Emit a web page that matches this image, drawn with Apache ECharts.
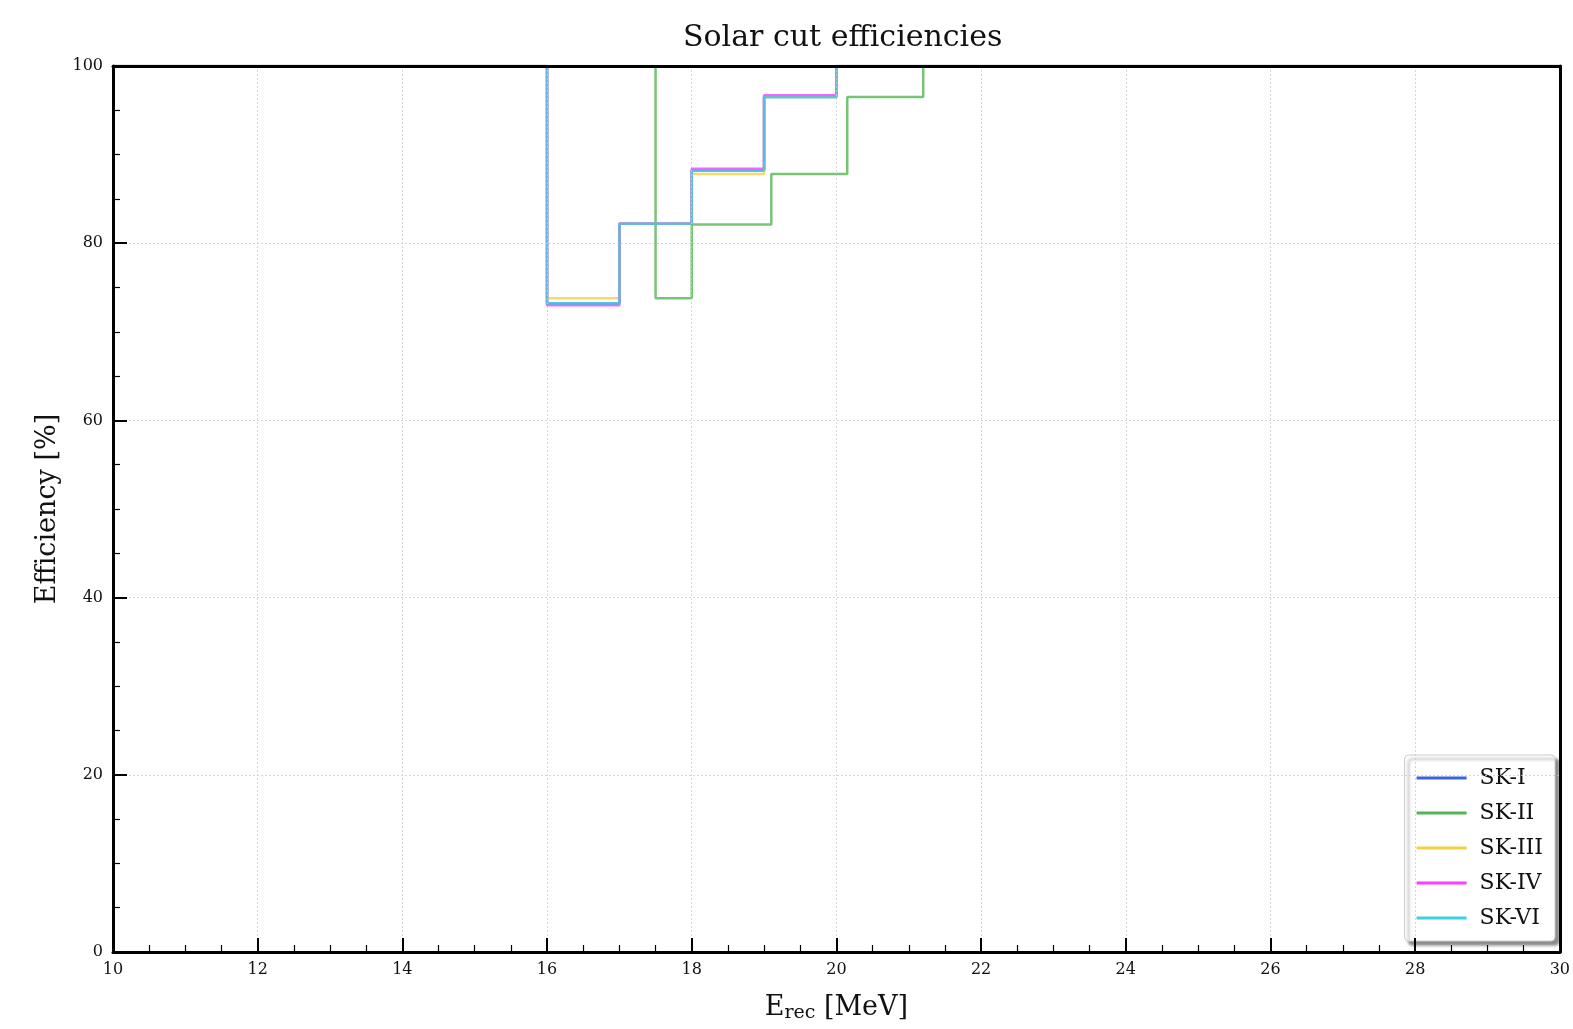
<!DOCTYPE html>
<html><head><meta charset="utf-8">
<script src="https://cdn.jsdelivr.net/npm/echarts@6/dist/echarts.min.js"></script>
<style>html,body{margin:0;padding:0;background:#fff}#c{width:1573px;height:1029px}</style>
</head><body><div id="c"></div>
<script>
const seriesNames = ['SK-I','SK-II','SK-III','SK-IV','SK-VI'];
// bin edges (x, MeV) and efficiency (%) at each edge, step held until next edge
const edgesSK1 = [10, 16, 17, 18, 19, 20, 30];
const effSK1   = [100, 73.2, 82.2, 88.2, 96.5, 100, 100];
const edgesSK2 = [10, 17.5, 18, 19.1, 20.15, 21.2, 30];
const effSK2   = [100, 73.8, 82.1, 87.8, 96.5, 100, 100];
const edgesSK3 = [10, 16, 17, 18, 19, 20, 30];
const effSK3   = [100, 73.8, 82.2, 87.8, 96.5, 100, 100];
const edgesSK4 = [10, 16, 17, 18, 19, 20, 30];
const effSK4   = [100, 73.0, 82.2, 88.4, 96.7, 100, 100];
const edgesSK6 = [10, 16, 17, 18, 19, 20, 30];
const effSK6   = [100, 73.2, 82.2, 88.2, 96.5, 100, 100];
const colors = ['#3a64d8','#55b555','#f2cf45','#ff3cff','#3fd0e0'];

const allEdges = [edgesSK1, edgesSK2, edgesSK3, edgesSK4, edgesSK6];
const allEff = [effSK1, effSK2, effSK3, effSK4, effSK6];
const font = '"DejaVu Serif", "Liberation Serif", serif';
const frameAxis = {show: true, onZero: false, lineStyle: {color: '#000', width: 3}};

const chart = echarts.init(document.getElementById('c'));
chart.setOption({
  animation: false,
  title: {text: 'Solar cut efficiencies', left: 678, top: 18,
    textStyle: {fontFamily: font, fontSize: 30, fontWeight: 'normal', color: '#111'}},
  grid: {left: 113, right: 11, top: 66, bottom: 77},
  legend: {
    orient: 'vertical', right: 18, bottom: 88,
    data: seriesNames,
    itemWidth: 50, itemHeight: 3, itemGap: 13,
    icon: 'rect',
    padding: [12, 12, 12, 12],
    backgroundColor: '#fff', borderColor: '#ccc', borderWidth: 1, borderRadius: 4,
    shadowColor: 'rgba(0,0,0,0.45)', shadowBlur: 3, shadowOffsetX: 4, shadowOffsetY: 4,
    textStyle: {fontFamily: font, fontSize: 22, color: '#111', padding: [0,0,0,8]}
  },
  xAxis: [{
    type: 'value', min: 10, max: 30, interval: 2, z: 10,
    name: '{a|E}{s|rec}{a| [MeV]}', nameLocation: 'middle', nameGap: 40,
    nameTextStyle: {rich: {a: {fontFamily: font, fontSize: 27, color: '#111'},
                            s: {fontFamily: font, fontSize: 19, color: '#111', verticalAlign: 'bottom', padding: [12,0,0,0]}}},
    axisLine: frameAxis,
    axisTick: {inside: true, length: 14, lineStyle: {color: '#000', width: 2}},
    minorTick: {show: true, splitNumber: 4, length: 7, lineStyle: {color: '#000', width: 1.2}},
    axisLabel: {fontFamily: font, fontSize: 16, color: '#111', margin: 10},
    splitLine: {show: true, lineStyle: {color: '#ccc', type: [2, 2], width: 0.8}}
  }, {
    type: 'value', min: 10, max: 30, position: 'top', z: 10,
    axisLine: frameAxis, axisTick: {show: false}, axisLabel: {show: false}, splitLine: {show: false}
  }],
  yAxis: [{
    type: 'value', min: 0, max: 100, interval: 20, z: 10,
    name: 'Efficiency [%]', nameLocation: 'middle', nameGap: 52, nameRotate: 90,
    nameTextStyle: {fontFamily: font, fontSize: 27, color: '#111'},
    axisLine: frameAxis,
    axisTick: {inside: true, length: 14, lineStyle: {color: '#000', width: 2}},
    minorTick: {show: true, splitNumber: 4, length: 7, lineStyle: {color: '#000', width: 1.2}},
    axisLabel: {fontFamily: font, fontSize: 16, color: '#111', margin: 10},
    splitLine: {show: true, lineStyle: {color: '#ccc', type: [2, 2], width: 0.8}}
  }, {
    type: 'value', min: 0, max: 100, position: 'right', z: 10,
    axisLine: frameAxis, axisTick: {show: false}, axisLabel: {show: false}, splitLine: {show: false}
  }],
  series: seriesNames.map((n, i) => ({
    name: n, type: 'line', step: 'end', showSymbol: false, symbol: 'none',
    color: colors[i], z: 2,
    lineStyle: {width: 2.5, opacity: 0.8},
    data: allEdges[i].map((x, j) => [x, allEff[i][j]])
  }))
});
</script></body></html>
